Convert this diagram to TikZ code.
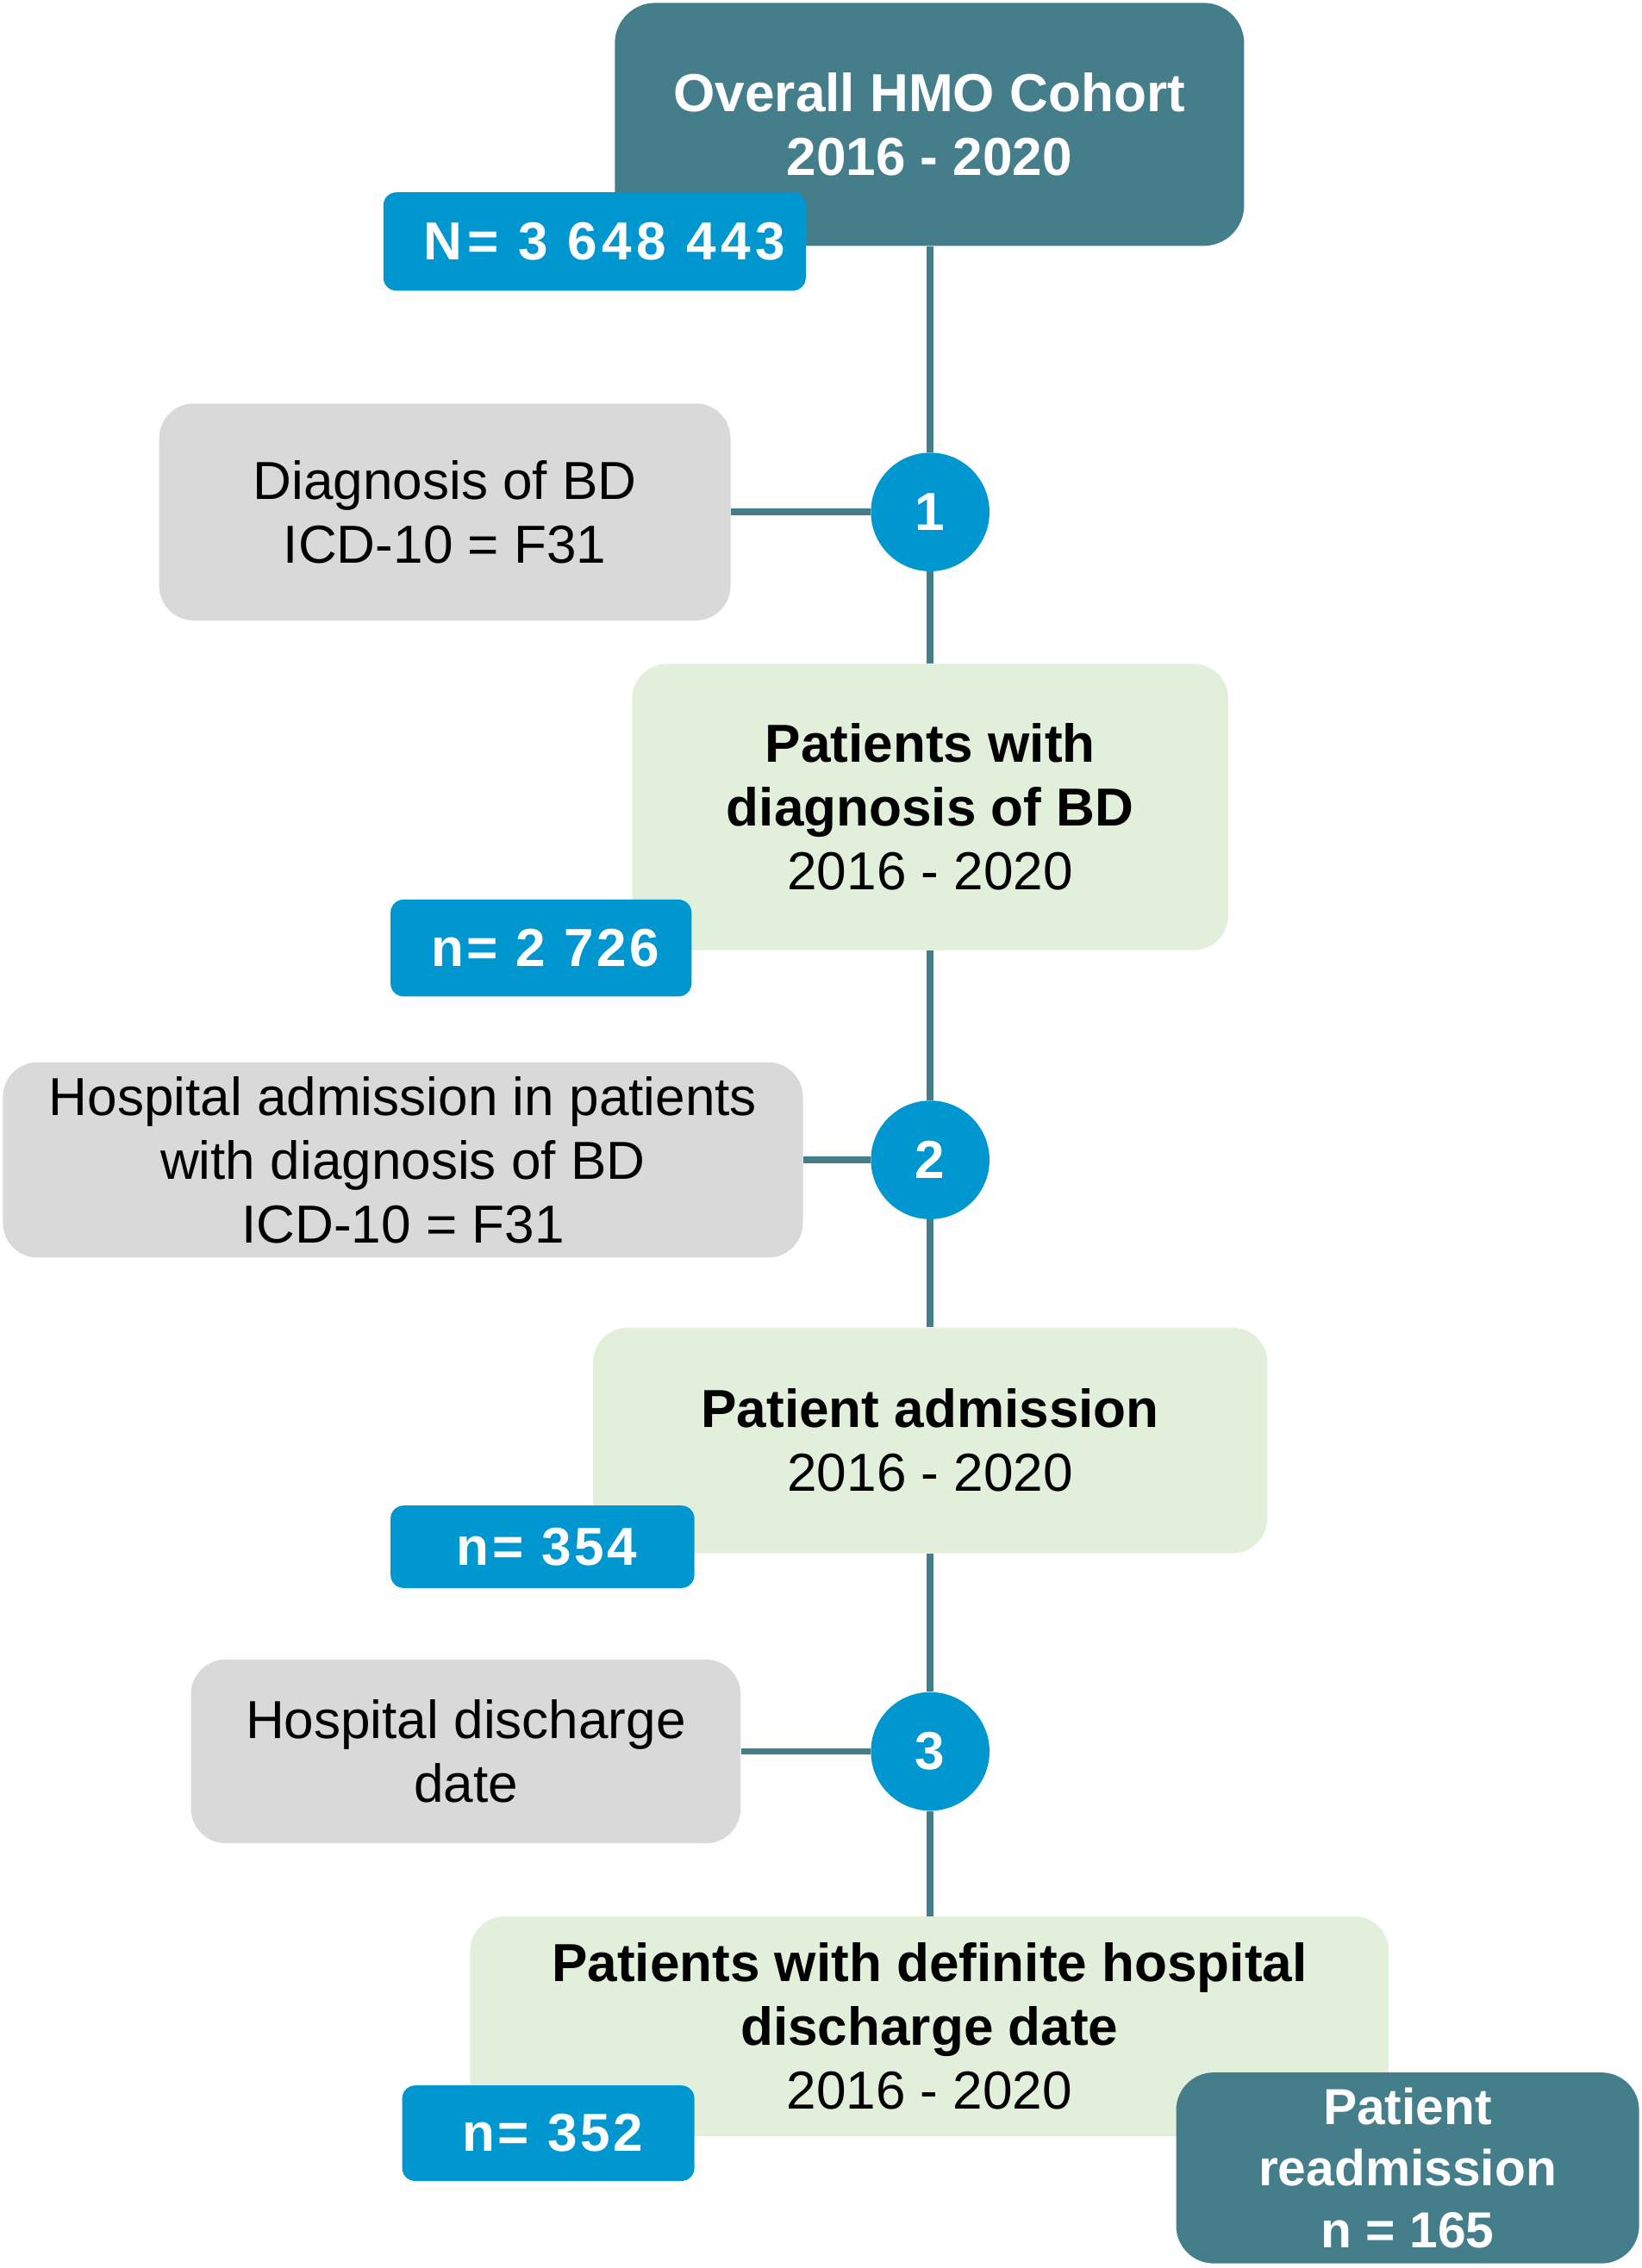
\documentclass[tikz,border=0pt]{standalone}
\usepackage{fontspec}
\setmainfont{Liberation Sans}
\definecolor{tealbox}{HTML}{457E8B}
\definecolor{bluebox}{HTML}{0096CF}
\definecolor{graybox}{HTML}{D9D9D9}
\definecolor{greenbox}{HTML}{E2EFDA}
\begin{document}
\begin{tikzpicture}[x=1pt,y=-1pt,
  txt/.style={font=\fontsize{37}{44}\selectfont, align=center, inner sep=0pt},
  tealnode/.style={txt, fill=tealbox, text=white, rounded corners=28pt, font=\fontsize{37}{44}\selectfont\bfseries},
  nbox/.style={txt, fill=bluebox, text=white, rounded corners=9pt, font=\fontsize{37}{44}\selectfont\bfseries\addfontfeatures{LetterSpace=6}},
  graynode/.style={txt, fill=graybox, text=black, rounded corners=24pt},
  greennode/.style={txt, fill=greenbox, text=black, rounded corners=24pt},
  stepcircle/.style={circle, fill=bluebox, text=white, minimum size=82pt, inner sep=0pt, font=\fontsize{37}{44}\selectfont\bfseries},
  conn/.style={draw=tealbox, line width=4.5pt}
]
\useasboundingbox (0,0) rectangle (1135,1568.2);

% main boxes
\node[tealnode, minimum width=435pt, minimum height=168pt] (top) at (642.5,86) {Overall HMO Cohort\\2016 - 2020};
\node[nbox, minimum width=292pt, minimum height=68pt, font=\fontsize{37}{44}\selectfont\bfseries\addfontfeatures{LetterSpace=9}] (N0) at (411,167) {\hspace*{14pt}N= 3 648 443};

\node[stepcircle] (c1) at (643,354) {1};
\node[graynode, minimum width=395pt, minimum height=150pt] (g1) at (307.5,354) {Diagnosis of BD\\ICD-10 = F31};

\node[greennode, minimum width=412pt, minimum height=198pt] (p1) at (643,558) {\textbf{Patients with}\\\textbf{diagnosis of BD}\\2016 - 2020};
\node[nbox, minimum width=208pt, minimum height=67pt] (n1) at (374,655.5) {\hspace*{6pt}n= 2 726};

\node[stepcircle] (c2) at (643,802) {2};
\node[graynode, minimum width=553pt, minimum height=135pt] (g2) at (278.5,802) {Hospital admission in patients\\with diagnosis of BD\\ICD-10 = F31};

\node[greennode, minimum width=466pt, minimum height=156pt] (p2) at (643,996) {\textbf{Patient admission}\\2016 - 2020};
\node[nbox, minimum width=210pt, minimum height=57pt] (n2) at (375,1069.5) {\hspace*{6pt}n= 354};

\node[stepcircle] (c3) at (643,1211) {3};
\node[graynode, minimum width=380pt, minimum height=127pt] (g3) at (322,1211) {Hospital discharge\\date};

\node[greennode, minimum width=635pt, minimum height=152pt] (p3) at (642.5,1401) {\textbf{Patients with definite hospital}\\\textbf{discharge date}\\2016 - 2020};
\node[nbox, minimum width=202pt, minimum height=66pt] (n3) at (379,1475) {\hspace*{6pt}n= 352};

\node[tealnode, minimum width=320pt, minimum height=132pt, rounded corners=26pt, font=\fontsize{35}{42.5}\selectfont\bfseries] (re) at (973,1499) {Patient\\readmission\\n = 165};

% connectors
\draw[conn] (top.south -| c1) -- (c1.north);
\draw[conn] (c1.south) -- (p1.north -| c1);
\draw[conn] (g1.east) -- (c1.west);
\draw[conn] (p1.south -| c2) -- (c2.north);
\draw[conn] (c2.south) -- (p2.north -| c2);
\draw[conn] (g2.east) -- (c2.west);
\draw[conn] (p2.south -| c3) -- (c3.north);
\draw[conn] (c3.south) -- (p3.north -| c3);
\draw[conn] (g3.east) -- (c3.west);
\end{tikzpicture}
\end{document}
